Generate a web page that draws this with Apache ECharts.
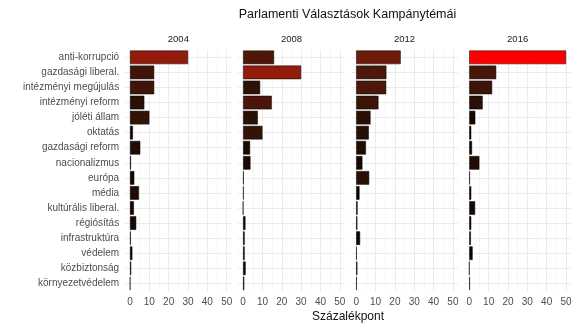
<!DOCTYPE html>
<html>
<head>
<meta charset="utf-8">
<script src="https://cdn.jsdelivr.net/npm/echarts@6/dist/echarts.min.js"></script>
<style>
  html, body { margin: 0; padding: 0; background: #ffffff; }
  #chart { width: 580px; height: 332px; }
</style>
</head>
<body>
<div id="chart"></div>
<script>
// Campaign topics, top to bottom
const categories = [
  'anti-korrupció', 'gazdasági liberal.', 'intézményi megújulás', 'intézményi reform',
  'jóléti állam', 'oktatás', 'gazdasági reform', 'nacionalizmus', 'európa', 'média',
  'kultúrális liberal.', 'régiósítás', 'infrastruktúra', 'védelem', 'közbiztonság',
  'környezetvédelem'
];
const years = ['2004', '2008', '2012', '2016'];

// Share of each topic (percentage points), one array per election year
const v2004 = [30, 12.5, 12.5, 7.4, 10, 1.5, 5.3, 0.5, 2.2, 4.6, 2, 3.2, 0.4, 1.2, 0.6, 0.1];
const v2008 = [16, 30, 8.8, 14.8, 7.6, 10, 3.6, 3.8, 0.3, 0.3, 0, 1.2, 0.8, 0.8, 1.3, 0.6];
const v2012 = [23, 15.6, 15.5, 11.5, 7.4, 6.5, 5, 3.2, 6.7, 1.7, 0.7, 0.6, 2, 0.3, 0.6, 0.3];
const v2016 = [50, 13.9, 11.8, 6.9, 3.1, 1, 1.4, 5.2, 0.3, 1, 3, 1, 0.8, 1.7, 0, 0.3];

const xTickLabels = [0, 10, 20, 30, 40, 50];

const title = 'Parlamenti Választások Kampánytémái';
const xTitle = 'Százalékpont';

const seriesByYear = [v2004, v2008, v2012, v2016];

// ---- fill scale: black -> red, interpolated in CIE Lab ----
function toLinear(c) { c /= 255; return c <= 0.04045 ? c / 12.92 : Math.pow((c + 0.055) / 1.055, 2.4); }
function fromLinear(c) { const v = c <= 0.0031308 ? 12.92 * c : 1.055 * Math.pow(c, 1 / 2.4) - 0.055; return Math.max(0, Math.min(255, Math.round(v * 255))); }
const WX = 0.95047, WY = 1.0, WZ = 1.08883;
function fLab(t) { return t > 0.008856 ? Math.cbrt(t) : 7.787 * t + 16 / 116; }
function fInv(t) { return t > 0.206893 ? t * t * t : (t - 16 / 116) / 7.787; }
function rgbToLab(rgb) {
  const r = toLinear(rgb[0]), g = toLinear(rgb[1]), b = toLinear(rgb[2]);
  const X = (0.4124 * r + 0.3576 * g + 0.1805 * b) / WX;
  const Y = (0.2126 * r + 0.7152 * g + 0.0722 * b) / WY;
  const Z = (0.0193 * r + 0.1192 * g + 0.9505 * b) / WZ;
  const fx = fLab(X), fy = fLab(Y), fz = fLab(Z);
  return [116 * fy - 16, 500 * (fx - fy), 200 * (fy - fz)];
}
function labToRgb(lab) {
  const fy = (lab[0] + 16) / 116, fx = fy + lab[1] / 500, fz = fy - lab[2] / 200;
  const X = WX * fInv(fx), Y = WY * fInv(fy), Z = WZ * fInv(fz);
  const r = 3.2406 * X - 1.5372 * Y - 0.4986 * Z;
  const g = -0.9689 * X + 1.8758 * Y + 0.0415 * Z;
  const b = 0.0557 * X - 0.2040 * Y + 1.0570 * Z;
  return 'rgb(' + fromLinear(r) + ',' + fromLinear(g) + ',' + fromLinear(b) + ')';
}
const lowLab = rgbToLab([0, 0, 0]);
const highLab = rgbToLab([255, 0, 0]);
const allValues = [].concat(...seriesByYear);
const vMin = Math.min(...allValues), vMax = Math.max(...allValues);
function fillFor(v) {
  const t = Math.max(0, Math.min(1, (v - vMin) / (vMax - vMin)));
  return labToRgb([0, 1, 2].map(i => lowLab[i] + (highLab[i] - lowLab[i]) * t));
}

// ---- panel geometry ----
const FONT = "'Liberation Sans', Arial, sans-serif";
const pxPerUnit = 1.934;
const zeroX = [130, 243.1, 356.2, 469.3];
const gridTop = 49.8;
const gridHeight = 241.1;
const xMin = -2.5, xMax = 52.5;

const grids = [], xAxes = [], yAxes = [], series = [], graphics = [];

seriesByYear.forEach((vals, i) => {
  grids.push({
    left: zeroX[i] + xMin * pxPerUnit,
    top: gridTop,
    width: (xMax - xMin) * pxPerUnit,
    height: gridHeight,
    containLabel: false
  });
  xAxes.push({
    gridIndex: i,
    type: 'value',
    min: xMin,
    max: xMax,
    interval: 2.5,
    axisLine: { show: false },
    axisTick: { show: false },
    axisLabel: {
      color: '#4d4d4d',
      fontSize: 10,
      fontFamily: FONT,
      margin: 6,
      showMinLabel: true,
      showMaxLabel: true,
      formatter: v => {
        const hit = xTickLabels.find(t => Math.abs(t - v) < 1e-6);
        return hit === undefined ? '' : String(hit);
      }
    },
    splitLine: {
      show: true,
      lineStyle: {
        width: 1,
        color: ['rgba(0,0,0,0)', '#ebebeb', 'rgba(0,0,0,0)', '#f5f5f5']
      }
    }
  });
  yAxes.push({
    gridIndex: i,
    type: 'category',
    data: categories,
    inverse: true,
    axisLine: { show: false },
    axisTick: { show: false },
    splitLine: { show: false },
    axisLabel: {
      show: i === 0,
      color: '#4d4d4d',
      fontSize: 10,
      fontFamily: FONT,
      margin: 6
    }
  });
  series.push({
    type: 'bar',
    name: years[i],
    xAxisIndex: i,
    yAxisIndex: i,
    data: vals,
    barWidth: '90%',
    z: 2,
    itemStyle: {
      color: p => fillFor(p.value),
      borderColor: '#000000',
      borderWidth: 0.5
    },
    markLine: {
      silent: true,
      z: 1,
      symbol: ['none', 'none'],
      animation: false,
      label: { show: false },
      lineStyle: { color: '#ebebeb', width: 1, type: 'solid' },
      data: categories.map(c => ({ yAxis: c }))
    }
  });
  graphics.push({
    type: 'text',
    x: zeroX[i] + 25 * pxPerUnit,
    y: 39,
    style: {
      text: years[i],
      fontSize: 9.5,
      fontFamily: FONT,
      fill: '#1a1a1a',
      align: 'center',
      verticalAlign: 'middle'
    }
  });
});

graphics.push({
  type: 'text', x: 347.5, y: 15,
  style: { text: title, fontSize: 12.5, fontFamily: FONT, fill: '#111111', align: 'center', verticalAlign: 'middle' }
});
graphics.push({
  type: 'text', x: 348, y: 316.5,
  style: { text: xTitle, fontSize: 12, fontFamily: FONT, fill: '#111111', align: 'center', verticalAlign: 'middle' }
});

const chart = echarts.init(document.getElementById('chart'), null, { renderer: 'canvas' });
chart.setOption({
  animation: false,
  backgroundColor: '#ffffff',
  grid: grids,
  xAxis: xAxes,
  yAxis: yAxes,
  series: series,
  graphic: graphics
});
</script>
</body>
</html>
